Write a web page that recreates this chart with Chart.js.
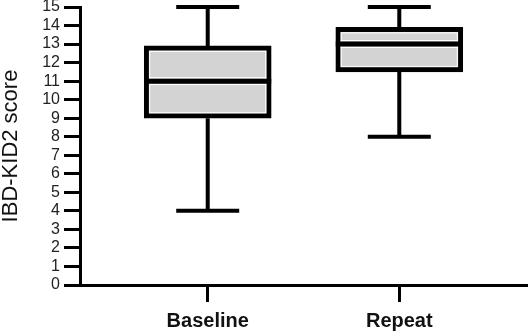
<!DOCTYPE html>
<html>
<head>
<meta charset="utf-8">
<script src="https://cdn.jsdelivr.net/npm/chart.js@4.4.1/dist/chart.umd.min.js"></script>
<style>
  html, body { margin: 0; padding: 0; background: #fff; }
  #wrap { width: 529px; height: 334px; }
</style>
</head>
<body>
<div id="wrap"><canvas id="boxChart" width="529" height="334"></canvas></div>
<script>
// Box plot values
const categories = ['Baseline', 'Repeat'];
const minValues = [4, 8];
const q1Values = [9, 11.5];
const medianValues = [11, 13];
const q3Values = [12.9, 13.9];
const maxValues = [15, 15];
const yMin = 0;
const yMax = 15;

const fontFamily = '"Liberation Sans", Arial, Helvetica, sans-serif';

// x positions of the groups (1, 2, ...)
const positions = categories.map((c, i) => i + 1);

// whiskers go behind the box, median + inner white line on top
const boxPlotPlugin = {
    id: 'boxPlot',
    beforeDatasetsDraw(chart) {
        const ctx = chart.ctx;
        const x = chart.scales.x;
        const y = chart.scales.y;
        ctx.save();
        ctx.strokeStyle = '#000';
        ctx.lineWidth = 4;
        ctx.lineCap = 'butt';
        positions.forEach((p, i) => {
            const cx = x.getPixelForValue(p);
            const capHalf = 31.5;
            ctx.beginPath();
            ctx.moveTo(cx, y.getPixelForValue(maxValues[i]));
            ctx.lineTo(cx, y.getPixelForValue(q3Values[i]));
            ctx.moveTo(cx, y.getPixelForValue(q1Values[i]));
            ctx.lineTo(cx, y.getPixelForValue(minValues[i]));
            ctx.stroke();
            ctx.beginPath();
            ctx.moveTo(cx - capHalf, y.getPixelForValue(maxValues[i]));
            ctx.lineTo(cx + capHalf, y.getPixelForValue(maxValues[i]));
            ctx.moveTo(cx - capHalf, y.getPixelForValue(minValues[i]));
            ctx.lineTo(cx + capHalf, y.getPixelForValue(minValues[i]));
            ctx.stroke();
        });
        ctx.restore();
    },
    afterDatasetsDraw(chart) {
        const ctx = chart.ctx;
        const x = chart.scales.x;
        const y = chart.scales.y;
        const meta = chart.getDatasetMeta(0);
        ctx.save();
        positions.forEach((p, i) => {
            const bar = meta.data[i];
            const half = bar.width / 2;
            const cx = x.getPixelForValue(p);
            const top = y.getPixelForValue(q3Values[i]);
            const bottom = y.getPixelForValue(q1Values[i]);
            const my = y.getPixelForValue(medianValues[i]);
            // thin white line just inside the black border
            ctx.strokeStyle = '#fff';
            ctx.lineWidth = 1;
            ctx.strokeRect(cx - half + 5.5, top + 5.5, 2 * half - 11, bottom - top - 11);
            // median with white edges
            ctx.beginPath();
            ctx.moveTo(cx - half + 5, my - 3.5);
            ctx.lineTo(cx + half - 5, my - 3.5);
            ctx.moveTo(cx - half + 5, my + 3.5);
            ctx.lineTo(cx + half - 5, my + 3.5);
            ctx.stroke();
            ctx.strokeStyle = '#000';
            ctx.lineWidth = 5;
            ctx.beginPath();
            ctx.moveTo(cx - half, my);
            ctx.lineTo(cx + half, my);
            ctx.stroke();
        });
        ctx.restore();
    }
};

const ctx = document.getElementById('boxChart').getContext('2d');
new Chart(ctx, {
    type: 'bar',
    data: {
        datasets: [{
            label: 'IBD-KID2',
            data: positions.map((p, i) => ({ x: p, y: [q1Values[i], q3Values[i]] })),
            backgroundColor: '#d3d3d3',
            borderColor: '#000',
            borderWidth: 5,
            borderSkipped: false,
            barThickness: 127
        }]
    },
    options: {
        responsive: false,
        animation: false,
        layout: { padding: { top: 7, right: 2, left: 0, bottom: 0 } },
        plugins: {
            legend: { display: false },
            tooltip: { enabled: false }
        },
        scales: {
            x: {
                type: 'linear',
                min: 1 / 3,
                max: 8 / 3,
                offset: false,
                afterBuildTicks: scale => {
                    scale.ticks = positions.map(p => ({ value: p }));
                },
                afterFit: scale => {
                    scale.height = 49;
                    scale.paddingLeft = 0;
                    scale.paddingRight = 0;
                },
                grid: {
                    offset: false,
                    drawOnChartArea: false,
                    drawTicks: true,
                    tickLength: 17,
                    tickWidth: 3,
                    tickColor: '#000'
                },
                border: { display: true, color: '#000', width: 3 },
                ticks: {
                    padding: 7,
                    color: '#111',
                    font: { family: fontFamily, size: 20, weight: 'bold' },
                    callback: value => categories[value - 1]
                }
            },
            y: {
                min: yMin,
                max: yMax,
                afterFit: scale => {
                    scale.width = 80;
                    scale.paddingTop = 0;
                    scale.paddingBottom = 0;
                },
                grid: {
                    drawOnChartArea: false,
                    tickLength: 16,
                    tickWidth: 3,
                    tickColor: '#000'
                },
                border: { display: true, color: '#000', width: 3 },
                ticks: {
                    stepSize: 1,
                    autoSkip: false,
                    padding: 4,
                    color: '#222',
                    font: { family: fontFamily, size: 16, lineHeight: 1 }
                },
                title: {
                    display: true,
                    text: 'IBD-KID2 score',
                    color: '#111',
                    padding: 0,
                    font: { family: fontFamily, size: 22, lineHeight: 1 }
                }
            }
        }
    },
    plugins: [boxPlotPlugin]
});
</script>
</body>
</html>
